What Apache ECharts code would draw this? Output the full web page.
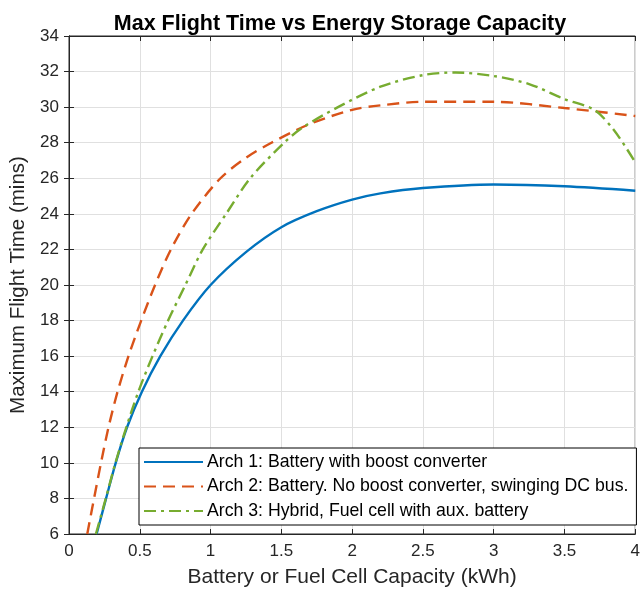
<!DOCTYPE html>
<html>
<head>
<meta charset="utf-8">
<script src="https://cdn.jsdelivr.net/npm/echarts@6/dist/echarts.min.js"></script>
<style>
html,body{margin:0;padding:0;background:#fff;}
#chart{width:643px;height:593px;}
</style>
</head>
<body>
<div id="chart"></div>
<script>
const titleText = 'Max Flight Time vs Energy Storage Capacity';
const xAxisName = 'Battery or Fuel Cell Capacity (kWh)';
const yAxisName = 'Maximum Flight Time (mins)';
const seriesNames = [
  'Arch 1: Battery with boost converter',
  'Arch 2: Battery. No boost converter, swinging DC bus.',
  'Arch 3: Hybrid, Fuel cell with aux. battery'
];
const arch1X = [0.195, 0.262, 0.33, 0.41, 0.515, 0.645, 0.805, 1.0, 1.25, 1.5, 1.75, 2.0, 2.2, 2.5, 3.0, 3.5, 4.0];
const arch1Y = [6, 8, 10, 12, 14, 16, 18, 20, 21.85, 23.25, 24.15, 24.8, 25.15, 25.45, 25.65, 25.55, 25.3];
const arch2X = [0.129, 0.177, 0.226, 0.279, 0.343, 0.42, 0.51, 0.608, 0.72, 0.866, 1.07, 1.25, 1.43, 1.7, 2.0, 2.2, 2.5, 3.0, 3.5, 4.0];
const arch2Y = [6, 8, 10, 12, 14, 16, 18, 20, 22, 24, 26, 27.15, 28, 29.05, 29.85, 30.1, 30.3, 30.3, 29.95, 29.5];
const arch3X = [0.19, 0.26, 0.328, 0.405, 0.49, 0.59, 0.70, 0.822, 0.945, 1.11, 1.28, 1.52, 1.65, 1.9, 2.2, 2.5, 2.73, 3.0, 3.25, 3.5, 3.71, 3.85, 4.0];
const arch3Y = [6, 8, 10, 12, 14, 16, 18, 20, 22, 24, 26, 28, 28.85, 30, 31.15, 31.8, 31.95, 31.75, 31.3, 30.45, 29.85, 28.7, 26.9];

const colors = ['#0072BD', '#D95319', '#77AC30'];
const lineTypes = ['solid', [12, 7], [12, 5, 3, 5]];
const xs = [arch1X, arch2X, arch3X];
const ys = [arch1Y, arch2Y, arch3Y];

const FONT = '"Liberation Sans", Arial, sans-serif';
const axisCol = '#262626';

const chart = echarts.init(document.getElementById('chart'), null, {renderer: 'canvas'});

const series = seriesNames.map((n, i) => ({
  name: n,
  type: 'line',
  data: xs[i].map((x, k) => [x, ys[i][k]]),
  showSymbol: false,
  symbol: 'none',
  smooth: 0.3,
  clip: true,
  lineStyle: {color: colors[i], width: 2.4, type: lineTypes[i]},
  itemStyle: {color: colors[i]},
  z: 3
}));

const baseAxis = {
  axisLine: {show: true, lineStyle: {color: axisCol, width: 1}},
  axisTick: {show: true, inside: true, length: 5, lineStyle: {color: axisCol}},
};

chart.setOption({
  animation: false,
  backgroundColor: '#ffffff',
  color: colors,
  title: {
    text: titleText,
    left: 335, textAlign: 'center', top: 8,
    textStyle: {fontFamily: FONT, fontSize: 21.5, fontWeight: 'bold', color: '#000'}
  },
  grid: {left: 69, right: 6, top: 36, bottom: 56, show: true, borderColor: axisCol, borderWidth: 1, backgroundColor: 'transparent'},
  legend: {
    orient: 'vertical',
    left: 139, top: 448,
    backgroundColor: '#fff',
    borderColor: '#000', borderWidth: 1,
    borderRadius: 0,
    padding: [5, 8, 5, 4],
    itemWidth: 59, itemHeight: 14, itemGap: 6.5,
    itemStyle: {opacity: 0},
    textStyle: {fontFamily: FONT, fontSize: 17.7, color: '#000', padding: [0, 0, 0, -1]},
    data: seriesNames,
    z: 10
  },
  xAxis: [Object.assign({
    type: 'value', min: 0, max: 4, interval: 0.5,
    name: xAxisName, nameLocation: 'middle', nameGap: 33,
    nameTextStyle: {fontFamily: FONT, fontSize: 21, color: axisCol},
    axisLabel: {fontFamily: FONT, fontSize: 17, color: axisCol, margin: 9},
    splitLine: {show: true, lineStyle: {color: '#e0e0e0', width: 1}}
  }, baseAxis), Object.assign({
    type: 'value', min: 0, max: 4, interval: 0.5, position: 'top',
    axisLabel: {show: false}, splitLine: {show: false}
  }, baseAxis)],
  yAxis: [Object.assign({
    type: 'value', min: 6, max: 34, interval: 2,
    name: yAxisName, nameLocation: 'middle', nameGap: 37,
    nameTextStyle: {fontFamily: FONT, fontSize: 20.5, color: axisCol},
    axisLabel: {fontFamily: FONT, fontSize: 17, color: axisCol, margin: 10},
    splitLine: {show: true, lineStyle: {color: '#e0e0e0', width: 1}}
  }, baseAxis), Object.assign({
    type: 'value', min: 6, max: 34, interval: 2, position: 'right',
    axisLabel: {show: false}, splitLine: {show: false}
  }, baseAxis)],
  series: series
});
</script>
</body>
</html>
